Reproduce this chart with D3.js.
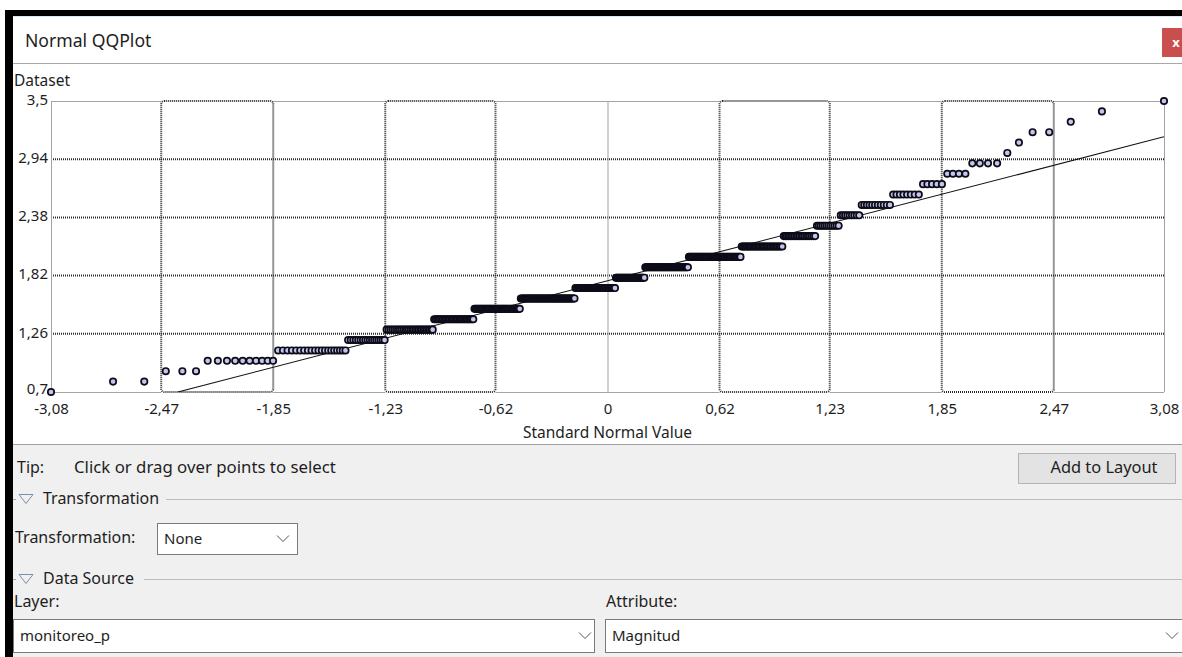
<!DOCTYPE html>
<html>
<head>
<meta charset="utf-8">
<script src="https://cdn.jsdelivr.net/npm/d3@7"></script>
<style>
  html, body { margin: 0; padding: 0; background: #ffffff; }
  svg { display: block; font-family: "Noto Sans", sans-serif; }
</style>
</head>
<body>
<svg id="win" width="1182" height="657"></svg>
<script>
// Magnitude values present in the layer and how many readings sit on each value
const magnitudes = [0.7, 0.8, 0.9, 1.0, 1.1, 1.2, 1.3, 1.4, 1.5, 1.6, 1.7, 1.8, 1.9, 2.0,
                    2.1, 2.2, 2.3, 2.4, 2.5, 2.6, 2.7, 2.8, 2.9, 3.0, 3.1, 3.2, 3.3, 3.4, 3.5];
const counts     = [1, 2, 3, 10, 20, 17, 28, 30, 41, 55, 43, 31, 44, 47,
                    31, 20, 12, 9, 11, 8, 5, 4, 4, 1, 1, 2, 1, 1, 1];

// Axis ticks
const xTicks = [-3.08, -2.47, -1.85, -1.23, -0.62, 0, 0.62, 1.23, 1.85, 2.47, 3.08];
const yTicks = [0.7, 1.26, 1.82, 2.38, 2.94, 3.5];

// Reference line of the normal fit (value = intercept + slope * z)
const refIntercept = 1.77;
const refSlope = 0.45;

// Sorted sample
const sample = [];
magnitudes.forEach((m, k) => { for (let j = 0; j < counts[k]; j++) sample.push(m); });
const n = sample.length;

// Inverse standard normal CDF (Acklam's rational approximation)
function normInv(p) {
  const a = [-3.969683028665376e+01, 2.209460984245205e+02, -2.759285104469687e+02,
             1.383577518672690e+02, -3.066479806614716e+01, 2.506628277459239e+00];
  const b = [-5.447609879822406e+01, 1.615858368580409e+02, -1.556989798598866e+02,
             6.680131188771972e+01, -1.328068155288572e+01];
  const c = [-7.784894002430293e-03, -3.223964580411365e-01, -2.400758277161838e+00,
             -2.549732539343734e+00, 4.374664141464968e+00, 2.938163982698783e+00];
  const d = [7.784695709041462e-03, 3.224671290700398e-01, 2.445134137142996e+00,
             3.754408661907416e+00];
  const pl = 0.02425, ph = 1 - pl;
  let q, r;
  if (p < pl) {
    q = Math.sqrt(-2 * Math.log(p));
    return (((((c[0]*q+c[1])*q+c[2])*q+c[3])*q+c[4])*q+c[5]) / ((((d[0]*q+d[1])*q+d[2])*q+d[3])*q+1);
  }
  if (p <= ph) {
    q = p - 0.5; r = q * q;
    return (((((a[0]*r+a[1])*r+a[2])*r+a[3])*r+a[4])*r+a[5])*q / (((((b[0]*r+b[1])*r+b[2])*r+b[3])*r+b[4])*r+1);
  }
  q = Math.sqrt(-2 * Math.log(1 - p));
  return -(((((c[0]*q+c[1])*q+c[2])*q+c[3])*q+c[4])*q+c[5]) / ((((d[0]*q+d[1])*q+d[2])*q+d[3])*q+1);
}

const points = sample.map((v, i) => ({ z: normInv((i + 0.5) / n), v }));

const svg = d3.select("#win");
const W = 1182, H = 657;
const comma = d => String(d).replace(".", ",");
const textColor = "#1e1e1e";

// ---------- window frame ----------
svg.append("rect").attr("x", 0).attr("y", 0).attr("width", W).attr("height", H).attr("fill", "#ffffff");
svg.append("rect").attr("x", 13).attr("y", 444).attr("width", W - 13).attr("height", H - 444).attr("fill", "#f0f0f0");
svg.append("rect").attr("x", 6).attr("y", 10).attr("width", W - 6).attr("height", 6).attr("fill", "#000");
svg.append("rect").attr("x", 5).attr("y", 10).attr("width", 8).attr("height", H - 10).attr("fill", "#000");
svg.append("line").attr("x1", 13).attr("x2", W).attr("y1", 16.5).attr("y2", 16.5).attr("stroke", "#d4eaf6");

svg.append("text").attr("x", 25).attr("y", 47).attr("font-size", 17.6).attr("fill", textColor).text("Normal QQPlot");
svg.append("rect").attr("x", 1162).attr("y", 28).attr("width", 20).attr("height", 29).attr("fill", "#c94f4c");
svg.append("text").attr("x", 1176).attr("y", 47).attr("font-size", 13).attr("font-weight", "bold")
  .attr("text-anchor", "middle").attr("fill", "#ffffff").text("x");
svg.append("line").attr("x1", 13).attr("x2", W).attr("y1", 63.5).attr("y2", 63.5).attr("stroke", "#a8a8a8");
svg.append("line").attr("x1", 13).attr("x2", W).attr("y1", 444.5).attr("y2", 444.5).attr("stroke", "#a0a0a0");

// ---------- plot ----------
const plot = { left: 51, right: 1164, top: 101, bottom: 392 };
const x = d3.scaleLinear().domain([-3.08, 3.08]).range([plot.left, plot.right]);
const y = d3.scaleLinear().domain([0.7, 3.5]).range([plot.bottom, plot.top]);

svg.append("text").attr("x", 14).attr("y", 86).attr("font-size", 15.5).attr("fill", textColor).text("Dataset");

const grid = svg.append("g");
const frameColor = "#a3a3a3";
const dotted = sel => sel.attr("fill", "none").attr("stroke", "#2e2e2e")
  .attr("stroke-width", 2).attr("stroke-dasharray", "1 1");

// alternate columns are outlined as dotted boxes, the rest of the frame is a plain grey rule
const boxedCols = [[-2.47, -1.85], [-1.23, -0.62], [0.62, 1.23], [1.85, 2.47]];
const openCols = [[-3.08, -2.47], [-1.85, -1.23], [-0.62, 0.62], [1.23, 1.85], [2.47, 3.08]];

openCols.forEach(([a, b]) => {
  [plot.top, plot.bottom].forEach(py => {
    grid.append("line").attr("x1", x(a)).attr("x2", x(b)).attr("y1", py + 0.5).attr("y2", py + 0.5)
      .attr("stroke", frameColor).attr("stroke-width", 1);
  });
});
yTicks.slice(1, -1).forEach(t => {
  grid.append("line").attr("x1", plot.left).attr("x2", plot.right).attr("y1", y(t)).attr("y2", y(t)).call(dotted);
});
boxedCols.forEach(([a, b]) => {
  grid.append("rect").attr("x", x(a)).attr("y", plot.top).attr("width", x(b) - x(a))
    .attr("height", plot.bottom - plot.top).attr("rx", 3).attr("ry", 3).call(dotted);
});
// left / right frame and the zero line
[plot.left, plot.right].forEach(px => {
  grid.append("line").attr("x1", px + 0.5).attr("x2", px + 0.5).attr("y1", plot.top).attr("y2", plot.bottom)
    .attr("stroke", frameColor);
});
grid.append("line").attr("x1", x(0) + 0.5).attr("x2", x(0) + 0.5).attr("y1", plot.top).attr("y2", plot.bottom)
  .attr("stroke", frameColor);

// axes (labels only)
const xAxis = svg.append("g").attr("transform", `translate(0,${plot.bottom})`)
  .call(d3.axisBottom(x).tickValues(xTicks).tickFormat(comma).tickSize(0).tickPadding(11));
const yAxis = svg.append("g").attr("transform", `translate(${plot.left},0)`)
  .call(d3.axisLeft(y).tickValues(yTicks).tickFormat(comma).tickSize(0).tickPadding(3));
[xAxis, yAxis].forEach(g => {
  g.select(".domain").remove();
  g.selectAll("text").attr("font-family", "Noto Sans, sans-serif").attr("font-size", 15).attr("fill", textColor);
});
// the lowest label sits on the axis corner, lifted clear of the first x label
yAxis.selectAll("text").attr("dy", d => d === yTicks[0] ? "0.07em" : "0.22em");

svg.append("text").attr("x", x(0)).attr("y", 438).attr("text-anchor", "middle")
  .attr("font-size", 15.5).attr("fill", textColor).text("Standard Normal Value");

// reference line
svg.append("clipPath").attr("id", "plotClip").append("rect")
  .attr("x", plot.left).attr("y", plot.top).attr("width", plot.right - plot.left).attr("height", plot.bottom - plot.top);
const zStart = (0.7 - refIntercept) / refSlope;
svg.append("line").attr("clip-path", "url(#plotClip)")
  .attr("x1", x(zStart)).attr("y1", y(refIntercept + refSlope * zStart))
  .attr("x2", x(3.08)).attr("y2", y(refIntercept + refSlope * 3.08))
  .attr("stroke", "#111").attr("stroke-width", 1.1);

// sample points
svg.append("g").selectAll("circle").data(points).join("circle")
  .attr("cx", d => x(d.z)).attr("cy", d => y(d.v)).attr("r", 3.2)
  .attr("fill", "#c5c4ec").attr("stroke", "#0c0c18").attr("stroke-width", 1.7);

// ---------- control panel ----------
const label = (tx, ty, s, opts = {}) => svg.append("text").attr("x", tx).attr("y", ty)
  .attr("font-size", opts.size || 16).attr("fill", textColor).attr("text-anchor", opts.anchor || "start").text(s);

label(17, 473, "Tip:");
label(74, 473, "Click or drag over points to select", { size: 16.8 });
svg.append("rect").attr("x", 1018.5).attr("y", 453.5).attr("width", 157).attr("height", 30)
  .attr("fill", "#e3e3e3").attr("stroke", "#b4b4b4");
label(1104, 473, "Add to Layout", { anchor: "middle", size: 16.4 });

const groupHeader = (cy, s, lineStart) => {
  svg.append("line").attr("x1", 13).attr("x2", 16).attr("y1", cy + 0.5).attr("y2", cy + 0.5).attr("stroke", "#a8a8a8");
  svg.append("path").attr("d", `M19,${cy - 4.5}L33,${cy - 4.5}L26,${cy + 4.5}Z`)
    .attr("fill", "none").attr("stroke", "#7f8fa6").attr("stroke-width", 1);
  label(43, cy + 5, s);
  svg.append("line").attr("x1", lineStart).attr("x2", W).attr("y1", cy + 0.5).attr("y2", cy + 0.5).attr("stroke", "#bdbdbd");
};
groupHeader(499, "Transformation", 166);
groupHeader(579, "Data Source", 144);

const combo = (bx, bw, by, bh, s, chevX) => {
  svg.append("rect").attr("x", bx + 0.5).attr("y", by + 0.5).attr("width", bw).attr("height", bh)
    .attr("fill", "#ffffff").attr("stroke", "#7a7a7a");
  label(bx + 7, by + bh / 2 + 5.5, s, { size: 15 });
  const cy = by + bh / 2;
  svg.append("path").attr("d", `M${chevX - 6},${cy - 3}L${chevX},${cy + 3}L${chevX + 6},${cy - 3}`)
    .attr("fill", "none").attr("stroke", "#555").attr("stroke-width", 1);
};
label(15, 543, "Transformation:");
combo(157, 140, 523, 31, "None", 283);

label(14, 607, "Layer:");
label(606, 607, "Attribute:");
combo(13, 581, 619, 33, "monitoreo_p", 585);
combo(605, 600, 619, 33, "Magnitud", 1172);
</script>
</body>
</html>
